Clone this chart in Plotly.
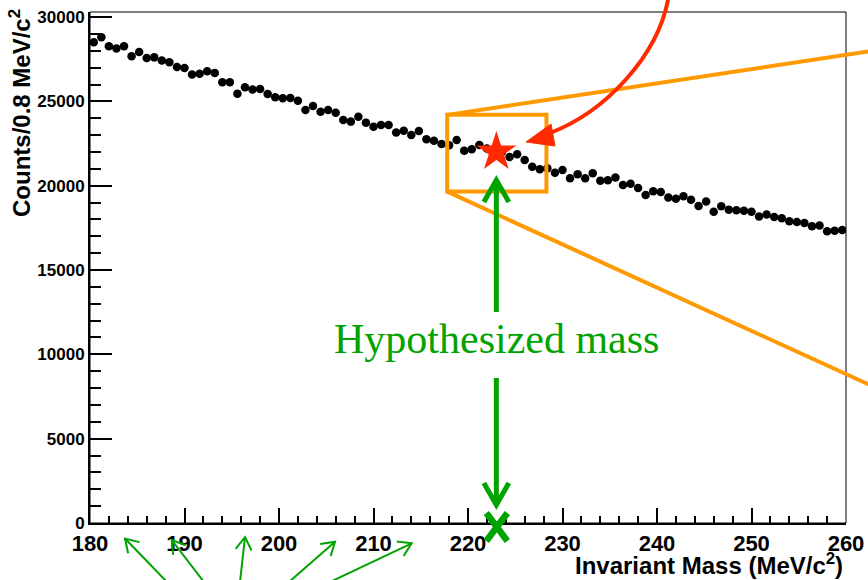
import plotly.graph_objects as go
import math

# ---------------- data ----------------
mass_low = 180.0
bin_width = 0.8
counts = [
    28500, 28800, 28270, 28130, 28270, 27680, 27930, 27570, 27610, 27420,
    27320, 27040, 26980, 26590, 26640, 26790, 26690, 26130, 26130, 25460,
    25840, 25700, 25740, 25440, 25240, 25180, 25200, 25040, 24490, 24730,
    24390, 24490, 24330, 23900, 23800, 24090, 23740, 23500, 23600, 23600,
    23150, 23260, 23010, 23250, 22750, 22670, 22470, 22400, 22710, 22080,
    22160, 22415, 22200, 22050, 22000, 21700, 21860, 21530, 21130, 20970,
    21030, 20770, 20930, 20440, 20680, 20440, 20740, 20300, 20320, 20490,
    20040, 20110, 19860, 19450, 19670, 19620, 19300, 19220, 19370, 19170,
    18800, 19070, 18460, 18780, 18580, 18540, 18520, 18460, 18180, 18290,
    18150, 18070, 17890, 17850, 17790, 17590, 17640, 17300, 17330, 17370,
]
mass = [mass_low + bin_width * (i + 0.5) for i in range(len(counts))]

hypo_mass = 223.0
hypo_counts = 22000
zoom_box_mass = [217.8, 228.3]
zoom_box_counts = [19650, 24200]

x_ticks = [180, 190, 200, 210, 220, 230, 240, 250, 260]
y_ticks = [0, 5000, 10000, 15000, 20000, 25000, 30000]

X_RANGE = [180, 260]
Y_RANGE = [0, 30300]

# ---------------- geometry helpers ----------------
W, H = 868, 580
ML, MR, MT, MB = 90, 22, 12, 57
PW, PH = W - ML - MR, H - MT - MB

def xp(x):  # data -> paper
    return (x - X_RANGE[0]) / (X_RANGE[1] - X_RANGE[0])

def yp(y):
    return (y - Y_RANGE[0]) / (Y_RANGE[1] - Y_RANGE[0])

def px(u):  # page pixel -> paper
    return (u - ML) / PW

def py(v):
    return (H - MB - v) / PH

def pix_x(x):  # data -> page pixel
    return ML + xp(x) * PW

def pix_y(y):
    return H - MB - yp(y) * PH

def P(u, v):
    return f"{px(u):.5f},{py(v):.5f}"

def chevron(tip, start, length, half_deg):
    dx, dy = start[0] - tip[0], start[1] - tip[1]
    n = math.hypot(dx, dy)
    dx, dy = dx / n, dy / n
    pts = []
    for s in (1, -1):
        a = math.radians(half_deg) * s
        rx = dx * math.cos(a) - dy * math.sin(a)
        ry = dx * math.sin(a) + dy * math.cos(a)
        pts.append((tip[0] + length * rx, tip[1] + length * ry))
    return f"M{P(*pts[0])} L{P(*tip)} L{P(*pts[1])}"

RED = "#ff2a00"
ORANGE = "#ff9900"
GREEN = "#00a300"

fig = go.Figure()
fig.add_trace(go.Scatter(x=mass, y=counts, mode="markers",
                         marker=dict(color="black", size=8.5, line_width=0),
                         showlegend=False, hoverinfo="skip"))
fig.add_trace(go.Scatter(x=[hypo_mass], y=[hypo_counts], mode="markers",
                         marker=dict(symbol="star", color=RED, size=30, line_width=0),
                         showlegend=False, hoverinfo="skip"))

shapes = []
# frame
shapes.append(dict(type="rect", xref="paper", yref="paper", x0=0, y0=0, x1=1, y1=1,
                   line=dict(color="black", width=1)))
# zoom box
shapes.append(dict(type="rect", xref="paper", yref="paper",
                   x0=xp(zoom_box_mass[0]), x1=xp(zoom_box_mass[1]),
                   y0=yp(zoom_box_counts[0]), y1=yp(zoom_box_counts[1]),
                   line=dict(color=ORANGE, width=4)))
bx0 = pix_x(zoom_box_mass[0])
by_top = pix_y(zoom_box_counts[1])
by_bot = pix_y(zoom_box_counts[0])
shapes.append(dict(type="path", xref="paper", yref="paper",
                   path=f"M{P(bx0, by_top)} L{P(872, 51)}",
                   line=dict(color=ORANGE, width=4)))
shapes.append(dict(type="path", xref="paper", yref="paper",
                   path=f"M{P(bx0, by_bot)} L{P(872, 386)}",
                   line=dict(color=ORANGE, width=4)))

# red curved arrow
shapes.append(dict(type="path", xref="paper", yref="paper",
                   path=f"M{P(669, -6)} C{P(660, 55)} {P(605, 112)} {P(550, 133)}",
                   line=dict(color=RED, width=4)))
shapes.append(dict(type="path", xref="paper", yref="paper",
                   path=f"M{P(526, 142)} L{P(551, 124)} L{P(555, 146)} Z",
                   line=dict(color=RED, width=1), fillcolor=RED))

# green vertical arrows at hypothesized mass
gx = pix_x(hypo_mass)
shapes.append(dict(type="path", xref="paper", yref="paper",
                   path=f"M{P(gx, 312)} L{P(gx, 182)}", line=dict(color=GREEN, width=5)))
shapes.append(dict(type="path", xref="paper", yref="paper",
                   path=f"M{P(gx-12.5, 202)} L{P(gx, 180)} L{P(gx+12.5, 202)}",
                   line=dict(color=GREEN, width=5)))
shapes.append(dict(type="path", xref="paper", yref="paper",
                   path=f"M{P(gx, 378)} L{P(gx, 503)}", line=dict(color=GREEN, width=5)))
shapes.append(dict(type="path", xref="paper", yref="paper",
                   path=f"M{P(gx-12.5, 483)} L{P(gx, 505)} L{P(gx+12.5, 483)}",
                   line=dict(color=GREEN, width=5)))
# X mark
shapes.append(dict(type="path", xref="paper", yref="paper",
                   path=f"M{P(gx-10, 513)} L{P(gx+11, 541)} M{P(gx+11, 513)} L{P(gx-10, 541)}",
                   line=dict(color=GREEN, width=6.5)))

# bottom arrows
bottom_arrows = [((167, 582), (125, 538.5)), ((204, 582), (171.7, 540)),
                 ((240, 582), (245, 537)), ((289, 582), (335, 541.7)),
                 ((330, 582), (411.7, 543.3))]
for start, tip in bottom_arrows:
    shapes.append(dict(type="path", xref="paper", yref="paper",
                       path=f"M{P(*start)} L{P(*tip)}", line=dict(color=GREEN, width=2)))
    shapes.append(dict(type="path", xref="paper", yref="paper",
                       path=chevron(tip, start, 15, 32), line=dict(color=GREEN, width=2)))

annotations = [
    dict(text="Hypothesized mass", xref="paper", yref="paper", x=xp(hypo_mass), y=py(339),
         xanchor="center", yanchor="middle", showarrow=False,
         font=dict(family="Liberation Serif, Times New Roman, serif", size=42, color=GREEN)),
    dict(text="<b>Counts/0.8 MeV/c<sup>2</sup></b>", xref="paper", yref="paper",
         x=px(20), y=py(113), xanchor="center", yanchor="middle", textangle=-90,
         showarrow=False, font=dict(family="Liberation Sans, Arial, sans-serif", size=24, color="black")),
    dict(text="<b>Invariant Mass (MeV/c<sup>2</sup>)</b>", xref="paper", yref="paper",
         x=px(845), y=py(564), xanchor="right", yanchor="middle",
         showarrow=False, font=dict(family="Liberation Sans, Arial, sans-serif", size=24, color="black")),
]

tickfont_x = dict(family="Liberation Sans, Arial, sans-serif", size=22, color="black", weight="bold")
tickfont_y = dict(family="Liberation Sans, Arial, sans-serif", size=17, color="black", weight="bold")

fig.update_layout(
    template="none",
    width=W, height=H, autosize=False,
    margin=dict(l=ML, r=MR, t=MT, b=MB, pad=0),
    paper_bgcolor="white", plot_bgcolor="white",
    showlegend=False,
    shapes=shapes, annotations=annotations,
    xaxis=dict(range=X_RANGE, tickvals=x_ticks, ticktext=[str(v) for v in x_ticks],
               showline=True, linecolor="black", linewidth=2, mirror=False,
               ticks="inside", ticklen=15, tickwidth=1.5, tickcolor="black",
               minor=dict(dtick=2, tick0=180, ticks="inside", ticklen=7, tickwidth=1.5, tickcolor="black"),
               showgrid=False, zeroline=False, tickfont=tickfont_x, automargin=False),
    yaxis=dict(range=Y_RANGE, tickvals=y_ticks, ticktext=[str(v) for v in y_ticks],
               showline=True, linecolor="black", linewidth=2, mirror=False,
               ticks="inside", ticklen=22, tickwidth=1.5, tickcolor="black",
               minor=dict(dtick=1000, tick0=0, ticks="inside", ticklen=11, tickwidth=1.5, tickcolor="black"),
               showgrid=False, zeroline=False, tickfont=tickfont_y, automargin=False),
)

fig.write_html("out.html")
